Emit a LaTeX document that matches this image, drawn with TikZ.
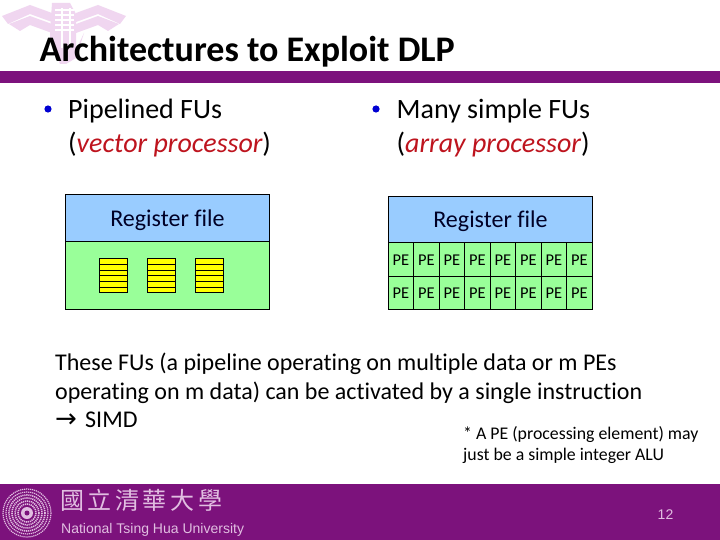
\documentclass[tikz,border=0pt]{standalone}
\usepackage{fontspec}
\setmainfont[Ligatures=NoCommon]{Carlito}
\newfontfamily\helv{Liberation Sans}
\newfontfamily\cjkf[LetterSpace=15]{Noto Sans CJK TC}
\definecolor{nthu}{RGB}{124,18,124}
\definecolor{wm}{RGB}{240,214,240}
\definecolor{regblue}{RGB}{153,204,255}
\definecolor{fugreen}{RGB}{153,255,153}
\definecolor{stack}{RGB}{255,255,0}
\definecolor{redtxt}{RGB}{190,20,30}
\definecolor{bul}{RGB}{0,0,210}
\definecolor{footpale}{RGB}{225,190,225}
\tikzset{
 x=1pt,y=-1pt,
 lab/.style={inner sep=0pt,anchor=base west,align=left,text=black},
 box/.style={draw=black,line width=0.8pt},
 pe/.style={draw=black,line width=0.7pt,fill=fugreen,inner sep=0pt,font=\fontsize{16.5}{17}\selectfont},
 stackrow/.style={draw=black,line width=0.7pt,fill=stack},
}
\newcommand{\pecell}[4]{\node[pe,minimum width=#3 pt-#1 pt,minimum height=#4 pt-#2 pt] at ({(#1+#3)/2},{(#2+#4)/2}) {\raisebox{-6pt}[0pt][0pt]{PE}};}
\begin{document}
\begin{tikzpicture}
\useasboundingbox (0,0) rectangle (720,540);
\fill[white] (0,0) rectangle (720,540);
% watermark
\fill[wm] (2,16) -- (30,5) -- (52,13) -- (52,22) -- (30,14) -- (8,24) -- cycle;
\fill[wm] (9,24) -- (30,16) -- (52,24) -- (52,33) -- (30,25) -- (20,31) -- cycle;
\fill[wm] (126,16) -- (98,5) -- (76,13) -- (76,22) -- (98,14) -- (120,24) -- cycle;
\fill[wm] (119,24) -- (98,16) -- (76,24) -- (76,33) -- (98,25) -- (108,31) -- cycle;
\fill[wm] (52,3) -- (70,3) -- (76,14) -- (76,50) -- (84,33) -- (76,58) -- (66,64) -- (60,64) -- (50,40) -- (50,33) -- cycle;
\foreach \yy in {10,15,20,25,30} \draw[white,line width=1.1pt] (55,\yy) -- (74,\yy);
\draw[white,line width=1.2pt] (62,8) -- (62,48);
\draw[white,line width=1.2pt] (70,8) -- (70,48);
% title
\node[lab,font=\fontsize{36}{36}\selectfont\bfseries] (title) at (39.5,61.5) {Architectures to Exploit DLP};
\fill[nthu] (0,71) rectangle (720,83);
% bullets
\fill[bul] (48,109) circle (3.6);
\node[lab,font=\fontsize{28}{28}\selectfont] (pipe) at (68,119) {Pipelined FUs};
\node[lab,font=\fontsize{28}{28}\selectfont] (pipe2) at (68,153) {(\textcolor{redtxt}{\itshape vector processor})};
\fill[bul] (376,109) circle (3.6);
\node[lab,font=\fontsize{28}{28}\selectfont] (many) at (396.5,119) {Many simple FUs};
\node[lab,font=\fontsize{28}{28}\selectfont] (many2) at (396.5,153) {(\textcolor{redtxt}{\itshape array processor})};
% left unit
\draw[box,fill=regblue] (65.5,194.5) rectangle (269.5,241.5);
\draw[box,fill=fugreen] (65.5,241.5) rectangle (269.5,309.5);
\node[inner sep=0pt,text=black!85!blue,font=\fontsize{24}{24}\selectfont] (rf1) at (167.5,220) {Register file};
\foreach \xx in {99.5,147.5,195.5}{
  \foreach \i in {0,...,5}{
    \draw[stackrow] (\xx,{258.5+\i*5.7}) rectangle ({\xx+28.2},{258.5+(\i+1)*5.7});
  }
}
% right unit
\node[box,fill=regblue,inner sep=0pt,minimum width=204pt,minimum height=46pt,text=black!85!blue,font=\fontsize{24}{24}\selectfont] (rf2) at (490.5,219.5) {\raisebox{-8.5pt}[0pt][0pt]{Register file}};
\pecell{388.5}{242.5}{413.5}{276}
\pecell{413.5}{242.5}{439.5}{276}
\pecell{439.5}{242.5}{464.5}{276}
\pecell{464.5}{242.5}{490.5}{276}
\pecell{490.5}{242.5}{515.5}{276}
\pecell{515.5}{242.5}{541.5}{276}
\pecell{541.5}{242.5}{566.5}{276}
\pecell{566.5}{242.5}{592.5}{276}
\pecell{388.5}{276}{413.5}{309.5}
\pecell{413.5}{276}{439.5}{309.5}
\pecell{439.5}{276}{464.5}{309.5}
\pecell{464.5}{276}{490.5}{309.5}
\pecell{490.5}{276}{515.5}{309.5}
\pecell{515.5}{276}{541.5}{309.5}
\pecell{541.5}{276}{566.5}{309.5}
\pecell{566.5}{276}{592.5}{309.5}
% body text
\node[lab,font=\fontsize{24}{24}\selectfont] (l1) at (55,370) {These FUs (a pipeline operating on multiple data or m PEs};
\node[lab,font=\fontsize{24}{24}\selectfont] (l2) at (55,399) {operating on m data) can be activated by a single instruction};
\node[lab,font=\fontsize{24}{24}\selectfont] (l3) at (55,427) {\makebox[30pt][l]{\fontspec{DejaVu Sans}\fontsize{26}{26}\selectfont →}SIMD};
\node[lab,font=\fontsize{17.8}{18}\selectfont] (n1) at (463,439) {* A PE (processing element) may};
\node[lab,font=\fontsize{17.8}{18}\selectfont] (n2) at (463,460) {just be a simple integer ALU};
% footer
\fill[nthu] (0,484) rectangle (720,540);
\foreach \r/\w in {24/1.2,21/1.2,18/1.6,15/1.6,12/1.6,9/1.6}
  \draw[footpale,line width=\w pt,dash pattern=on 1.2pt off 0.8pt] (27,513) circle (\r);
\fill[footpale] (27,513) circle (6);
\fill[nthu] (27,513) circle (2.5);
\node[lab,text=footpale,font=\cjkf\fontsize{24}{24}\selectfont] (cn) at (60,509) {國立清華大學};
\node[lab,text=footpale,font=\helv\fontsize{14}{14}\selectfont] (en) at (61,533) {National Tsing Hua University};
\node[inner sep=0pt,text=footpale,font=\helv\fontsize{14}{14}\selectfont] (pg) at (665.5,515) {12};
\end{tikzpicture}
\end{document}
